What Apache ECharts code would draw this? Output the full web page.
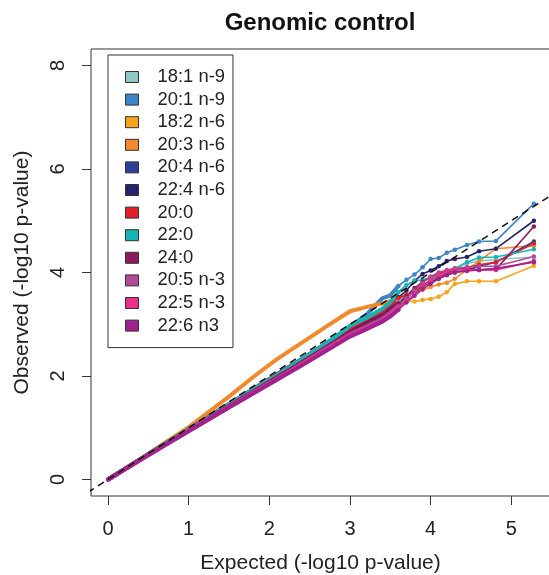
<!DOCTYPE html>
<html>
<head>
<meta charset="utf-8">
<script src="https://cdn.jsdelivr.net/npm/echarts@6/dist/echarts.min.js"></script>
<style>
html,body{margin:0;padding:0;background:#fff;}
#chart{width:549px;height:575px;}
</style>
</head>
<body>
<div id="chart"></div>
<script>
// ---- data ----
const seriesNames = ['18:1 n-9','20:1 n-9','18:2 n-6','20:3 n-6','20:4 n-6','22:4 n-6','20:0','22:0','24:0','20:5 n-3','22:5 n-3','22:6 n3'];
const seriesColors = ['#8EC8C4','#3D85C6','#F9A41C','#F2892A','#2A3F97','#27226B','#E3202A','#18B3B3','#8C1A5C','#B24A9A','#EA3088','#A0228E'];

// expected (-log10 p) positions, dense body of each QQ curve
const bulkExpected = [0, 0.5, 1.0, 1.5, 1.8, 2.1, 2.4, 2.7, 3.0, 3.2, 3.4, 3.5, 3.6];
// expected (-log10 p) positions, sparse tail of each QQ curve
const tailExpected = [3.6, 3.7, 3.8, 3.9, 4.0, 4.1, 4.2, 4.3, 4.45, 4.6, 4.81, 5.28];

// observed (-log10 p) along bulkExpected
const bulk_18_1 = [0, 0.49, 0.97, 1.45, 1.73, 2.02, 2.30, 2.60, 2.92, 3.08, 3.25, 3.35, 3.45];
const bulk_20_1 = [0, 0.49, 0.98, 1.46, 1.75, 2.04, 2.33, 2.63, 2.95, 3.18, 3.50, 3.56, 3.74];
const bulk_18_2 = [0, 0.48, 0.95, 1.42, 1.70, 1.98, 2.26, 2.54, 2.84, 3.02, 3.22, 3.30, 3.40];
const bulk_20_3 = [0, 0.50, 1.01, 1.60, 1.98, 2.33, 2.64, 2.95, 3.25, 3.33, 3.40, 3.45, 3.52];
const bulk_20_4 = [0, 0.48, 0.96, 1.44, 1.72, 2.00, 2.29, 2.58, 2.88, 3.02, 3.15, 3.28, 3.40];
const bulk_22_4 = [0, 0.49, 0.97, 1.45, 1.74, 2.03, 2.31, 2.60, 2.90, 3.05, 3.22, 3.35, 3.52];
const bulk_20_0 = [0, 0.49, 0.97, 1.45, 1.74, 2.03, 2.32, 2.62, 2.93, 3.10, 3.25, 3.38, 3.50];
const bulk_22_0 = [0, 0.49, 0.97, 1.45, 1.74, 2.02, 2.32, 2.62, 2.97, 3.12, 3.30, 3.42, 3.62];
const bulk_24_0 = [0, 0.48, 0.95, 1.42, 1.70, 1.98, 2.26, 2.55, 2.85, 3.00, 3.15, 3.25, 3.40];
const bulk_20_5 = [0, 0.47, 0.94, 1.40, 1.68, 1.95, 2.23, 2.52, 2.80, 2.95, 3.10, 3.22, 3.35];
const bulk_22_5 = [0, 0.47, 0.94, 1.40, 1.67, 1.94, 2.22, 2.50, 2.78, 2.92, 3.05, 3.18, 3.32];
const bulk_22_6 = [0, 0.47, 0.93, 1.39, 1.66, 1.93, 2.20, 2.48, 2.76, 2.90, 3.05, 3.15, 3.28];

// observed (-log10 p) along tailExpected
const tail_18_1 = [3.45, 3.55, 3.65, 3.75, 3.85, 3.92, 3.98, 4.05, 4.18, 4.22, 4.25, 4.30];
const tail_20_1 = [3.74, 3.86, 3.96, 4.10, 4.26, 4.28, 4.38, 4.44, 4.53, 4.60, 4.61, 5.33];
const tail_18_2 = [3.40, 3.44, 3.44, 3.47, 3.49, 3.53, 3.62, 3.78, 3.83, 3.83, 3.83, 4.13];
const tail_20_3 = [3.52, 3.58, 3.62, 3.66, 3.72, 3.77, 3.80, 3.88, 4.05, 4.22, 4.46, 4.52];
const tail_20_4 = [3.40, 3.52, 3.62, 3.72, 3.82, 3.88, 3.95, 4.00, 4.05, 4.12, 4.20, 4.60];
const tail_22_4 = [3.52, 3.65, 3.84, 3.97, 4.04, 4.12, 4.22, 4.26, 4.30, 4.41, 4.46, 5.00];
const tail_20_0 = [3.50, 3.56, 3.65, 3.75, 3.85, 3.92, 3.98, 4.04, 4.10, 4.15, 4.20, 4.56];
const tail_22_0 = [3.62, 3.76, 3.84, 3.86, 3.90, 3.96, 4.02, 4.08, 4.20, 4.29, 4.30, 4.45];
const tail_24_0 = [3.40, 3.55, 3.70, 3.82, 3.92, 3.98, 4.02, 4.05, 4.08, 4.05, 4.06, 4.89];
const tail_20_5 = [3.35, 3.50, 3.65, 3.80, 3.92, 4.00, 4.05, 4.08, 4.10, 4.12, 4.12, 4.31];
const tail_22_5 = [3.32, 3.45, 3.58, 3.72, 3.85, 3.95, 4.02, 4.05, 4.05, 4.05, 4.05, 4.22];
const tail_22_6 = [3.28, 3.42, 3.55, 3.68, 3.78, 3.88, 3.95, 4.00, 4.03, 4.05, 4.08, 4.20];

const bulkObserved = [bulk_18_1, bulk_20_1, bulk_18_2, bulk_20_3, bulk_20_4, bulk_22_4, bulk_20_0, bulk_22_0, bulk_24_0, bulk_20_5, bulk_22_5, bulk_22_6];
const tailObserved = [tail_18_1, tail_20_1, tail_18_2, tail_20_3, tail_20_4, tail_22_4, tail_20_0, tail_22_0, tail_24_0, tail_20_5, tail_22_5, tail_22_6];

// y = x reference line end points
const refLine = [[-0.5, -0.5], [6, 6]];
const xTicks = [0, 1, 2, 3, 4, 5];
const yTicks = [0, 2, 4, 6, 8];

// ---- chart ----
const FONT = '"Liberation Sans", Arial, Helvetica, sans-serif';
const series = [];
seriesNames.forEach((name, i) => {
  series.push({
    name, type: 'line', z: 2,
    data: bulkExpected.map((x, j) => [x, bulkObserved[i][j]]),
    showSymbol: false, symbol: 'none',
    lineStyle: { width: 4, color: seriesColors[i], cap: 'round', join: 'round' },
    itemStyle: { color: seriesColors[i] },
    silent: true
  });
  series.push({
    name, type: 'line', z: 2,
    data: tailExpected.map((x, j) => [x, tailObserved[i][j]]),
    symbol: 'circle', symbolSize: 4.5, showSymbol: true,
    lineStyle: { width: 1.6, color: seriesColors[i] },
    itemStyle: { color: seriesColors[i] },
    silent: true
  });
});
series.push({
  name: 'ref', type: 'line', z: 5, data: refLine, symbol: 'none', silent: true,
  lineStyle: { color: '#111', width: 1.5, type: [7, 5] }
});

const chart = echarts.init(document.getElementById('chart'), null, { renderer: 'canvas' });
chart.setOption({
  animation: false,
  backgroundColor: '#fff',
  title: {
    text: 'Genomic control', left: 320, top: 11, textAlign: 'center', padding: 0,
    textStyle: { fontFamily: FONT, fontSize: 24, fontWeight: 'bold', color: '#111' }
  },
  grid: {
    left: 91, top: 49, width: 459, height: 447, show: true,
    outerBoundsMode: 'none', containLabel: false,
    borderColor: '#333', borderWidth: 1, backgroundColor: 'transparent'
  },
  xAxis: {
    type: 'value', min: -0.211, max: 5.48,
    name: 'Expected (-log10 p-value)', nameLocation: 'middle', nameGap: 57,
    nameMoveOverlap: false,
    nameTextStyle: { fontFamily: FONT, fontSize: 21, color: '#222' },
    axisLine: { show: false, onZero: false },
    axisTick: { show: true, customValues: xTicks, length: 9, inside: false, lineStyle: { color: '#333', width: 1 } },
    axisLabel: { customValues: xTicks, fontFamily: FONT, fontSize: 20, color: '#222', margin: 23 },
    splitLine: { show: false }
  },
  yAxis: {
    type: 'value', min: -0.32, max: 8.32,
    name: 'Observed (-log10 p-value)', nameLocation: 'middle', nameGap: 58, nameRotate: 90,
    nameMoveOverlap: false,
    nameTextStyle: { fontFamily: FONT, fontSize: 21, color: '#222' },
    axisLine: { show: false, onZero: false },
    axisTick: { show: true, customValues: yTicks, length: 9, inside: false, lineStyle: { color: '#333', width: 1 } },
    axisLabel: { customValues: yTicks, rotate: 90, fontFamily: FONT, fontSize: 20, color: '#222', margin: 23 },
    splitLine: { show: false }
  },
  legend: {
    data: seriesNames, orient: 'vertical', left: 108, top: 55,
    padding: [13, 8, 13, 17], itemWidth: 13, itemHeight: 11, itemGap: 4.6,
    icon: 'rect', selectedMode: false,
    borderColor: '#333', borderWidth: 1, backgroundColor: '#fff',
    itemStyle: { borderColor: '#333', borderWidth: 1 },
    textStyle: { fontFamily: FONT, fontSize: 18.4, color: '#222', lineHeight: 17, padding: [0, 0, 0, 14] }
  },
  series
});
</script>
</body>
</html>
